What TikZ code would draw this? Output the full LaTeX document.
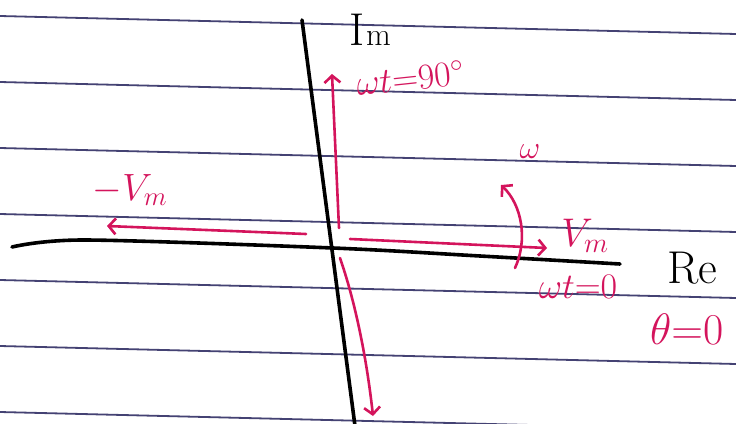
\RequirePackage{fix-cm}
\documentclass[tikz,border=0pt]{standalone}
\usetikzlibrary{arrows.meta}
\definecolor{ink}{RGB}{212,20,92}
\definecolor{rulecol}{RGB}{68,66,115}
\begin{document}
\begin{tikzpicture}[x=1pt,y=-1pt,
  ruled/.style={rulecol, line width=1.8pt},
  axis/.style={black, line width=3.6pt, line cap=round},
  vec/.style={ink, line width=2.6pt, line cap=round,
    -{Straight Barb[length=7pt,width=16pt,line width=2.6pt]}},
  lbl/.style={ink, inner sep=0pt},
  axlbl/.style={black, inner sep=0pt}]
\useasboundingbox (0,0) rectangle (736,423);
\clip (0,0) rectangle (736,423);
\fill[white] (0,0) rectangle (736,423);
% ruled paper lines
\foreach \k in {0,...,6}
  \draw[ruled] (0,{16+66*\k}) -- (736,{34+66*\k});
% axes
\coordinate (reL) at (12,247);
\coordinate (reR) at (620,264);
\coordinate (imT) at (302,20);
\coordinate (imB) at (355,426);
\draw[axis] plot[smooth] coordinates {(reL) (85,240) (333,248) (480,256) (reR)};
\draw[axis] (imT) -- (imB);
\node[axlbl, font=\fontsize{46}{46}\selectfont] (re) at (692,268) {Re};
\node[axlbl] (im) at (370,30) {{\fontsize{46}{46}\selectfont I}\,{\fontsize{32}{32}\selectfont m}};
% phasor vectors
\coordinate (oU) at (339,228);
\coordinate (tU) at (332,74);
\coordinate (oR) at (350,239);
\coordinate (tR) at (547,248);
\coordinate (oL) at (306,234);
\coordinate (tL) at (107,226);
\coordinate (oD) at (340,258);
\coordinate (tD) at (373,416);
\coordinate (wS) at (515,268);
\coordinate (wE) at (501,185);
\draw[vec] (oU) -- (tU);
\draw[vec] (oR) -- (tR);
\draw[vec] (oL) -- (tL);
\draw[vec] (oD) .. controls (358,310) and (368,370) .. (tD);
\draw[vec] (wS) .. controls (528,240) and (522,205) .. (wE);
% labels
\node[lbl, rotate=6, font=\fontsize{36}{36}\selectfont] (w90) at (410,78) {$\omega t{=}90^{\circ}$};
\node[lbl, font=\fontsize{32}{32}\selectfont] (w) at (530,152) {$\omega$};
\node[lbl, font=\fontsize{38}{38}\selectfont] (vmL) at (130,190) {$-V_m$};
\node[lbl, font=\fontsize{40}{40}\selectfont] (vmR) at (585,236) {$V_m$};
\node[lbl, font=\fontsize{36}{36}\selectfont] (w0) at (578,287) {$\omega t{=}0$};
\node[lbl, anchor=west, font=\fontsize{44}{44}\selectfont] (th) at (650,329) {$\theta{=}0$};
\end{tikzpicture}
\end{document}
